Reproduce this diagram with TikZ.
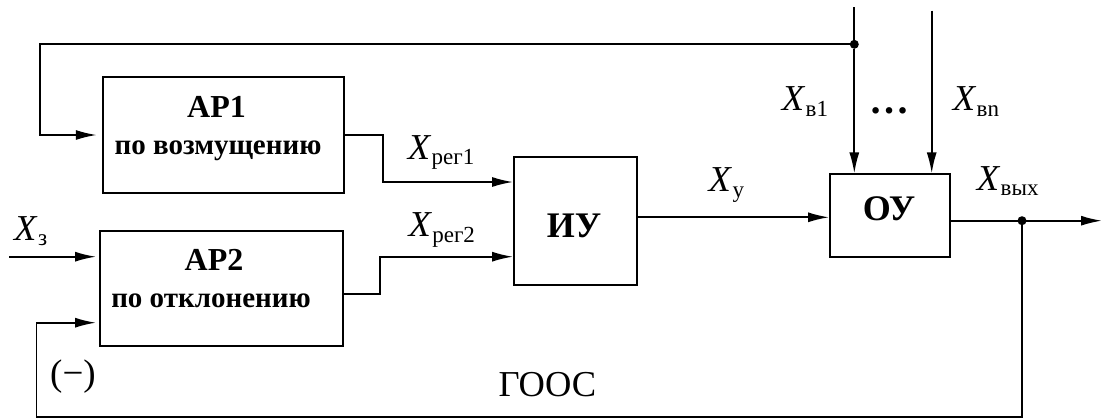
\documentclass[tikz,border=0pt]{standalone}
\usepackage{fontspec}
\setmainfont{Liberation Serif}
\usetikzlibrary{arrows.meta}
\newcommand\Xsub[1]{\textit{X}\kern0.01em\raisebox{-5.5pt}{\fontsize{23}{23}\selectfont #1}}
\begin{document}
\begin{tikzpicture}[x=1pt,y=-1pt,
  ln/.style={line width=1.8pt},
  arr/.style={line width=1.8pt,-{Latex[length=21pt,width=10pt]}},
  blk/.style={draw,line width=1.8pt,inner sep=0pt},
  blkA/.style={font=\fontsize{32}{32}\selectfont\bfseries,inner sep=0pt,anchor=base},
  blkB/.style={font=\fontsize{29}{29}\selectfont\bfseries,inner sep=0pt,anchor=base},
  bigtxt/.style={font=\fontsize{36}{36}\selectfont\bfseries,inner sep=0pt,anchor=base},
  sig/.style={font=\fontsize{36.5}{36.5}\selectfont,inner sep=0pt,anchor=base west},
  dot/.style={circle,fill=black,inner sep=0pt,minimum size=9pt}]
\useasboundingbox (0,0) rectangle (1103,418);
% blocks
\node[blk,minimum width=241.6pt,minimum height=115.4pt] (ar1) at (223.5,135) {};
\node[blk,minimum width=242.7pt,minimum height=115pt] (ar2) at (221.35,288.5) {};
\node[blk,minimum width=122.7pt,minimum height=128.3pt] (iu) at (575.35,220.85) {};
\node[blk,minimum width=120pt,minimum height=83pt] (ou) at (890,215.8) {};
\node[blkA] (t1a) at (216.5,117.3) {АР1};
\node[blkB] (t1b) at (218,154) {по возмущению};
\node[blkA] (t2a) at (214,270.7) {АР2};
\node[blkB] (t2b) at (211,307.3) {по отклонению};
\node[bigtxt] (t3) at (574,237.3) {ИУ};
\node[bigtxt] (t4) at (889,220) {ОУ};
% junctions and free ends
\node[dot] (j1) at (854.3,44.3) {};
\node[dot] (j2) at (1022,220.7) {};
\coordinate (c1) at (40,44.3);
\coordinate (xb1) at (854.3,7.3);
\coordinate (xbn) at (931.7,10.7);
\coordinate (xz) at (9.3,256.7);
\coordinate (s1) at (382.7,182);
\coordinate (s2) at (380,256.7);
\coordinate (out) at (1102,220.7);
\coordinate (fb1) at (1022,416.7);
\coordinate (fb2) at (36.5,416.7);
% connectors
\draw[arr,shorten >=5pt] (j1) -- (c1) |- (ar1.west);
\draw[ln] (xb1) -- (j1);
\draw[arr] (j1) -- (j1 |- ou.north);
\draw[arr] (xbn) -- (xbn |- ou.north);
\draw[arr] (ar1.east) -| (s1) -- (s1 -| iu.west);
\draw[arr] ([yshift=-5.5pt]ar2.east) -| (s2) -- (s2 -| iu.west);
\draw[arr,shorten >=3pt] (xz) -- (xz -| ar2.west);
\draw[arr] (iu.east |- 0,217.3) -- (ou.west |- 0,217.3);
\draw[arr] (ou.east |- j2) -- (out);
\draw[arr,shorten >=3pt] (j2) -- (fb1) -- (fb2) |- ([yshift=-34.2pt]ar2.west);
% labels
\node[sig] (l1) at (407.7,159.3) {\Xsub{рег1}};
\node[sig] (l2) at (408.3,236.7) {\Xsub{рег2}};
\node[sig] (l3) at (708.5,191.7) {\Xsub{у}};
\node[sig] (l4) at (781.7,110.7) {\Xsub{в1}};
\node[sig] (l5) at (952.7,110.7) {\Xsub{вn}};
\node[sig] (l6) at (976.7,190) {\Xsub{вых}};
\node[sig] (l7) at (14,240) {\Xsub{з}};
\node[sig,font=\fontsize{40}{40}\selectfont\bfseries] (l8) at (869,113) {…};
\node[sig,font=\fontsize{37}{37}\selectfont] (l9) at (50,385) {(−)};
\node[sig] (l10) at (498.3,396) {ГООС};
\end{tikzpicture}
\end{document}
